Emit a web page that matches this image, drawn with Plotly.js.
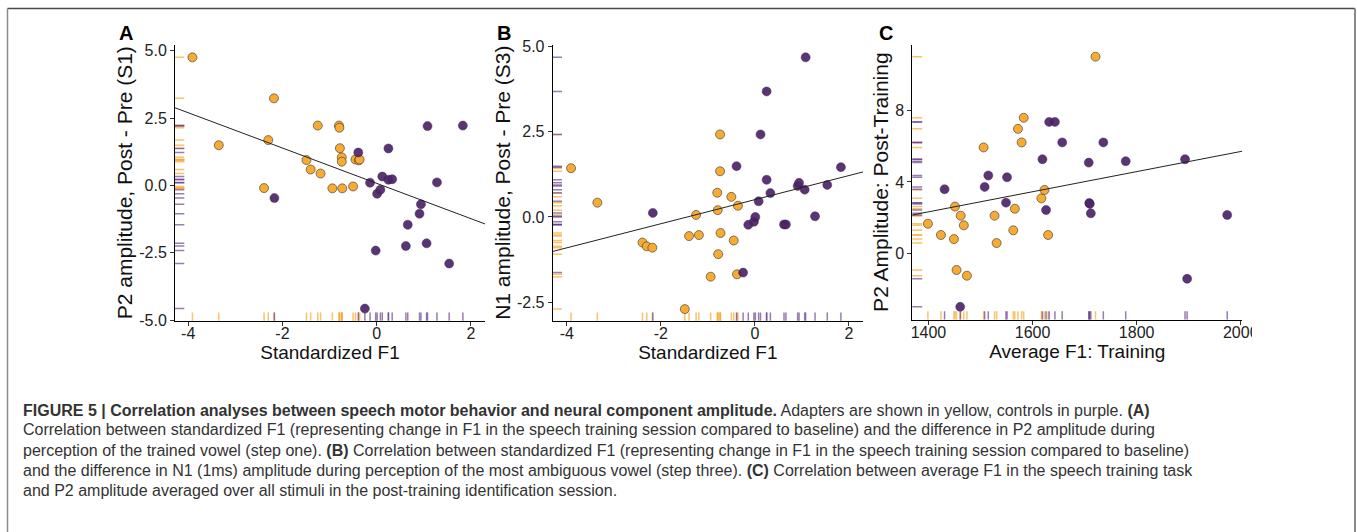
<!DOCTYPE html>
<html><head><meta charset="utf-8">
<script src="https://cdn.plot.ly/plotly-3.0.1.min.js"></script>
<style>html,body{margin:0;padding:0;background:#fff}#chart{width:1357px;height:532px}</style>
</head><body><div id="chart"></div>
<script>
// ---------- DATA ----------
// Panels A & B: standardized F1 (x), adapters (orange) and controls (purple)
const f1Std_adapt = [-3.91, -3.35, -2.39, -2.30, -2.18, -1.49, -1.40, -1.25, -1.19, -0.94, -0.80, -0.79, -0.78, -0.74, -0.74, -0.73, -0.50, -0.45, -0.38, -0.36];
const f1Std_ctrl  = [-2.17, -0.39, -0.25, -0.14, -0.02, 0.01, 0.08, 0.12, 0.25, 0.25, 0.33, 0.62, 0.66, 0.91, 0.94, 1.06, 1.08, 1.28, 1.54, 1.83];
// Panel A: P2 amplitude, Post - Pre (S1)
const p2Diff_adapt = [4.75, 1.49, -0.10, 1.68, 3.23, 0.94, 0.59, 2.22, 0.44, -0.11, 2.22, 2.14, 1.38, 1.04, 0.88, -0.11, -0.04, 0.96, 0.93, 0.96];
const p2Diff_ctrl  = [-0.47, 1.22, -4.57, 0.10, -2.42, -0.31, -0.16, 0.33, 1.37, 0.21, 0.23, -2.25, -1.46, -1.05, -0.70, -2.15, 2.20, 0.11, -2.90, 2.22];
// Panel B: N1 amplitude, Post - Pre (S3)
const n1Diff_adapt = [1.43, 0.42, -0.75, -0.86, -0.90, -2.70, -0.56, 0.06, -0.53, -1.75, 0.71, 0.20, -1.09, 2.42, 1.34, -0.47, 0.59, -0.69, -1.68, 0.33];
const n1Diff_ctrl  = [0.12, 1.49, -1.63, -0.23, -0.14, 0.00, 0.46, 2.42, 3.68, 1.09, 0.70, -0.22, -0.22, 0.91, 1.00, 0.80, 4.68, 0.02, 0.94, 1.46];
// Panel C: average F1 in training (x) and P2 amplitude post-training (y)
const f1Avg_adapt  = [1399, 1424, 1449, 1451, 1454, 1462, 1468, 1474, 1506, 1527, 1531, 1563, 1566, 1572, 1579, 1583, 1617, 1623, 1630, 1721];
const p2Post_adapt = [1.66, 1.03, 0.80, 2.62, -0.93, 2.11, 1.57, -1.25, 5.93, 2.11, 0.58, 1.29, 2.50, 6.97, 6.21, 7.59, 3.08, 3.55, 1.03, 11.01];
const f1Avg_ctrl   = [1431, 1461, 1508, 1515, 1549, 1551, 1619, 1626, 1632, 1643, 1657, 1708, 1709, 1710, 1712, 1736, 1779, 1893, 1897, 1974];
const p2Post_ctrl  = [3.59, -2.99, 3.72, 4.36, 2.84, 4.26, 5.27, 2.43, 7.36, 7.36, 6.21, 5.08, 2.82, 2.77, 2.24, 6.21, 5.16, 5.27, -1.42, 2.15];
// Regression lines (end points)
const fitA_x = [-4.28, 2.30], fitA_y = [2.88, -1.43];
const fitB_x = [-4.30, 2.30], fitB_y = [-1.01, 1.32];
const fitC_x = [1369, 2003],  fitC_y = [2.15, 5.72];
// Tick values / labels
const tickStd_vals = [-4, -2, 0, 2], tickStd_text = ['-4', '-2', '0', '2'];
const tickDiff_vals = [-5, -2.5, 0, 2.5, 5], tickDiff_text = ['-5.0', '-2.5', '0.0', '2.5', '5.0'];
const tickF1_vals = [1400, 1600, 1800, 2000], tickF1_text = ['1400', '1600', '1800', '2000'];
const tickP2_vals = [0, 4, 8], tickP2_text = ['0', '4', '8'];
// Texts
const panelLetters = ['A', 'B', 'C'];
const yTitles = ['P2 amplitude, Post - Pre (S1)', 'N1 amplitude, Post - Pre (S3)', 'P2 Amplitude: Post-Training'];
const xTitles = ['Standardized F1', 'Standardized F1', 'Average F1: Training'];
const captionLines = [
  '<b>FIGURE 5 | Correlation analyses between speech motor behavior and neural component amplitude.</b> Adapters are shown in yellow, controls in purple. <b>(A)</b>',
  'Correlation between standardized F1 (representing change in F1 in the speech training session compared to baseline) and the difference in P2 amplitude during',
  'perception of the trained vowel (step one). <b>(B)</b> Correlation between standardized F1 (representing change in F1 in the speech training session compared to baseline)',
  'and the difference in N1 (1ms) amplitude during perception of the most ambiguous vowel (step three). <b>(C)</b> Correlation between average F1 in the speech training task',
  'and P2 amplitude averaged over all stimuli in the post-training identification session.'
];

// ---------- STYLE / LAYOUT ----------
const W = 1357, H = 532;
const FONT = 'Liberation Sans, Arial, Helvetica, sans-serif';
const ORANGE = '#F7AB33', PURPLE = '#4D2468';
const RUG_OR = 'rgba(247,168,45,0.7)', RUG_PU = 'rgba(95,55,135,0.65)';
const fx = p => p / W, fy = p => 1 - p / H;

const panels = [
  {xa: 'x',  ya: 'y',  xd: [175, 485],     yd: [44.7, 320.7], xr: [-4.28, 2.30], yr: [-5.02, 5.22],
   xs: [f1Std_adapt, f1Std_ctrl], ys: [p2Diff_adapt, p2Diff_ctrl], fit: [fitA_x, fitA_y],
   xt: [tickStd_vals, tickStd_text], yt: [tickDiff_vals, tickDiff_text]},
  {xa: 'x2', ya: 'y2', xd: [552.7, 863],   yd: [44.7, 320.7], xr: [-4.30, 2.30], yr: [-3.04, 5.05],
   xs: [f1Std_adapt, f1Std_ctrl], ys: [n1Diff_adapt, n1Diff_ctrl], fit: [fitB_x, fitB_y],
   xt: [tickStd_vals, tickStd_text], yt: [tickDiff_vals, tickDiff_text]},
  {xa: 'x3', ya: 'y3', xd: [912.3, 1242.3], yd: [44.7, 319.5], xr: [1369, 2003], yr: [-3.70, 11.68],
   xs: [f1Avg_adapt, f1Avg_ctrl], ys: [p2Post_adapt, p2Post_ctrl], fit: [fitC_x, fitC_y],
   xt: [tickF1_vals, tickF1_text], yt: [tickP2_vals, tickP2_text]}
];

const data = [], shapes = [], annotations = [];
const layout = {
  width: W, height: H, margin: {l: 0, r: 0, t: 0, b: 0},
  paper_bgcolor: '#fff', plot_bgcolor: 'rgba(0,0,0,0)', showlegend: false,
  font: {family: FONT, color: '#222'}
};

panels.forEach((p, i) => {
  const sfx = i === 0 ? '' : String(i + 1);
  const axCommon = {
    showline: true, linecolor: '#000', linewidth: 1, ticks: 'outside', ticklen: 4, tickcolor: '#333',
    showgrid: false, zeroline: false, tickfont: {family: FONT, size: 16, color: '#222'}, fixedrange: true
  };
  layout['xaxis' + sfx] = Object.assign({}, axCommon, {
    domain: [fx(p.xd[0]), fx(p.xd[1])], range: p.xr, anchor: p.ya,
    tickmode: 'array', tickvals: p.xt[0], ticktext: p.xt[1], ticklabelstandoff: -6,
    title: {text: xTitles[i], font: {family: FONT, size: 19, color: '#111'}, standoff: 0}
  });
  layout['yaxis' + sfx] = Object.assign({}, axCommon, {
    domain: [fy(p.yd[1]), fy(p.yd[0])], range: p.yr, anchor: p.xa,
    tickmode: 'array', tickvals: p.yt[0], ticktext: p.yt[1],
    title: {text: yTitles[i], font: {family: FONT, size: 21, color: '#111'}, standoff: 0}
  });
  // rugs
  const rugCols = [RUG_OR, RUG_PU];
  [0, 1].forEach(g => {
    p.xs[g].forEach(v => shapes.push({type: 'line', layer: 'below', xref: p.xa, yref: p.ya + ' domain',
      x0: v, x1: v, y0: 0, y1: 0.03, line: {color: rugCols[g], width: 1.5}}));
    p.ys[g].forEach(v => shapes.push({type: 'line', layer: 'below', xref: p.xa + ' domain', yref: p.ya,
      x0: 0, x1: 0.03, y0: v, y1: v, line: {color: rugCols[g], width: 1.5}}));
  });
  // points
  data.push({type: 'scatter', mode: 'markers', x: p.xs[0], y: p.ys[0], xaxis: p.xa, yaxis: p.ya, cliponaxis: false,
    marker: {size: 9, color: ORANGE, line: {color: 'rgba(50,50,50,0.75)', width: 0.8}}, hoverinfo: 'x+y'});
  data.push({type: 'scatter', mode: 'markers', x: p.xs[1], y: p.ys[1], xaxis: p.xa, yaxis: p.ya, cliponaxis: false,
    marker: {size: 9, color: PURPLE, opacity: 0.92, line: {color: '#3a1850', width: 0.5}}, hoverinfo: 'x+y'});
  data.push({type: 'scatter', mode: 'lines', x: p.fit[0], y: p.fit[1], xaxis: p.xa, yaxis: p.ya,
    line: {color: '#222', width: 1}, hoverinfo: 'skip'});
});

// panel letters
const letterPos = [[126, 33], [504, 33], [886, 33]];
panelLetters.forEach((L, i) => annotations.push({xref: 'paper', yref: 'paper', x: fx(letterPos[i][0]), y: fy(letterPos[i][1]),
  xanchor: 'center', yanchor: 'middle', showarrow: false, text: '<b>' + L + '</b>', font: {family: FONT, size: 20, color: '#000'}}));

// caption
const capY = [410, 429.5, 450, 470, 490];
captionLines.forEach((t, i) => annotations.push({xref: 'paper', yref: 'paper', x: fx(21), y: fy(capY[i]),
  xanchor: 'left', yanchor: 'middle', showarrow: false, align: 'left', text: t,
  font: {family: FONT, size: 16, color: '#333'}}));

// clip the last x tick label of panel C as in the figure
shapes.push({type: 'rect', layer: 'above', xref: 'paper', yref: 'paper', x0: fx(1252), x1: fx(1352), y0: fy(342), y1: fy(322),
  fillcolor: '#fff', line: {width: 0}});
// figure frame
shapes.push({type: 'line', layer: 'above', xref: 'paper', yref: 'paper', x0: fx(7.5), x1: fx(1355), y0: fy(8.5), y1: fy(8.5), line: {color: '#4a4a4a', width: 1.5}});
shapes.push({type: 'line', layer: 'above', xref: 'paper', yref: 'paper', x0: fx(7.5), x1: fx(7.5), y0: fy(8.5), y1: 0, line: {color: '#8a8a8a', width: 1.5}});
shapes.push({type: 'line', layer: 'above', xref: 'paper', yref: 'paper', x0: fx(1355), x1: fx(1355), y0: fy(8.5), y1: 0, line: {color: '#8a8a8a', width: 2}});

layout.shapes = shapes;
layout.annotations = annotations;
Plotly.newPlot('chart', data, layout, {displayModeBar: false, staticPlot: true});
</script>
</body></html>
